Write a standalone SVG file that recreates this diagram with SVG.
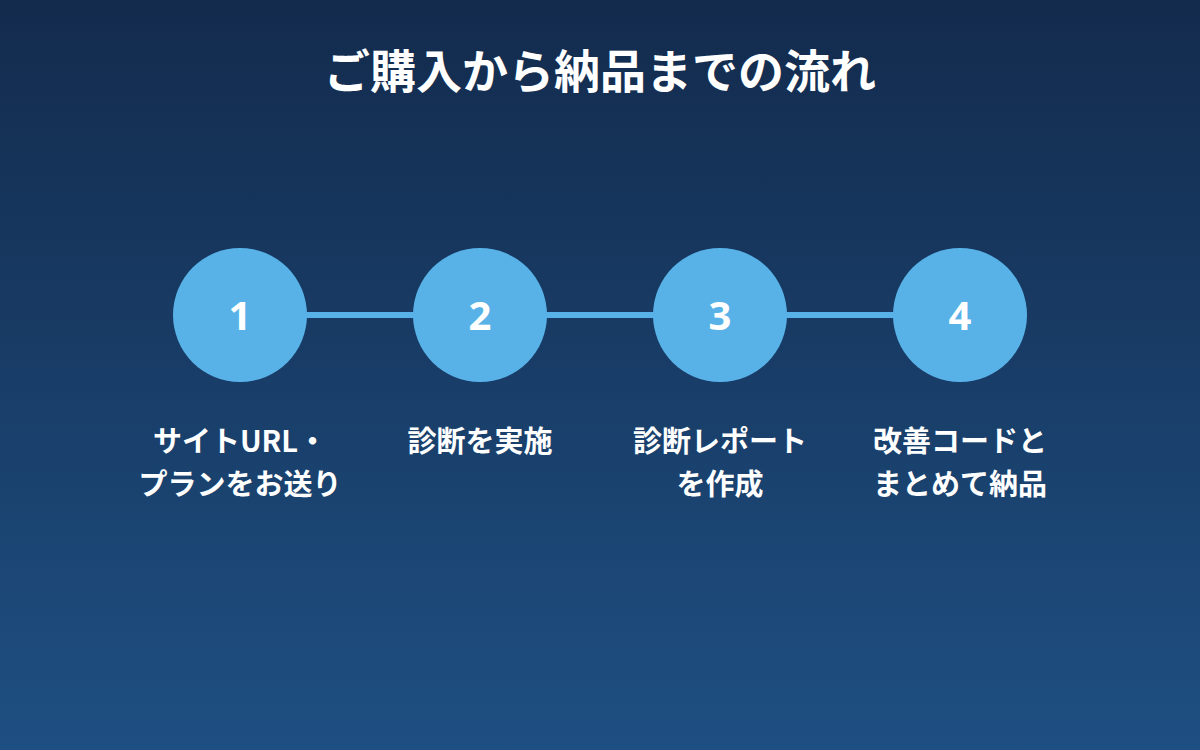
<svg xmlns="http://www.w3.org/2000/svg" width="1200" height="750" viewBox="0 0 1200 750">
<defs>
<linearGradient id="bg" x1="0" y1="0" x2="0" y2="1">
<stop offset="0" stop-color="#132b4d"/>
<stop offset="1" stop-color="#1e4f82"/>
</linearGradient>
<style>
.t{font-family:"Noto Sans CJK JP","Noto Sans",sans-serif;font-weight:bold;fill:#fff;text-anchor:middle}
.c{fill:#58b2e8}
.n{font-family:"Noto Sans","Liberation Sans",sans-serif;font-weight:bold;fill:#fff;text-anchor:middle;font-size:40px}
.l{font-size:29px}
</style>
</defs>
<rect width="1200" height="750" fill="url(#bg)"/>
<text class="t" x="600" y="88" font-size="46">ご購入から納品までの流れ</text>
<g id="connectors"><line x1="240" y1="315" x2="960" y2="315" stroke="#58b2e8" stroke-width="6"/></g>
<g id="step1"><circle class="c" cx="240" cy="315" r="67"/><text class="n" x="240" y="330">1</text>
<text class="t l" x="240" y="452">サイトURL・</text><text class="t l" x="240" y="495">プランをお送り</text></g>
<g id="step2"><circle class="c" cx="480" cy="315" r="67"/><text class="n" x="480" y="330">2</text>
<text class="t l" x="480" y="452">診断を実施</text></g>
<g id="step3"><circle class="c" cx="720" cy="315" r="67"/><text class="n" x="720" y="330">3</text>
<text class="t l" x="720" y="452">診断レポート</text><text class="t l" x="720" y="495">を作成</text></g>
<g id="step4"><circle class="c" cx="960" cy="315" r="67"/><text class="n" x="960" y="330">4</text>
<text class="t l" x="960" y="452">改善コードと</text><text class="t l" x="960" y="495">まとめて納品</text></g>
</svg>
